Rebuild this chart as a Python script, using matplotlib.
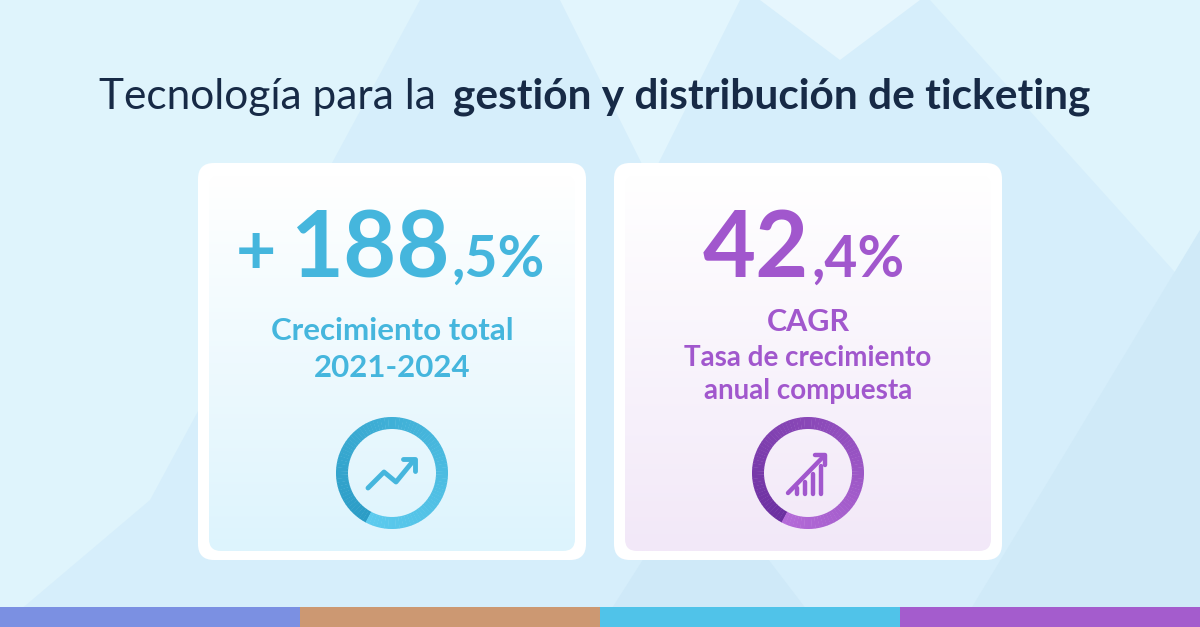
import matplotlib
matplotlib.use("Agg")
import matplotlib.pyplot as plt
import numpy as np
from matplotlib.patches import FancyBboxPatch, Polygon, Wedge, Rectangle
from matplotlib.colors import to_rgb

plt.rcParams['font.family'] = ['Lato', 'DejaVu Sans']

# data
title_regular = "Tecnología para la "
title_bold = "gestión y distribución de ticketing"
card1_value = ("+", "188", ",5%")
card1_labels = ["Crecimiento total", "2021-2024"]
card2_value = ("42", ",4%")
card2_labels = ["CAGR", "Tasa de crecimiento", "anual compuesta"]
stripe_colors = ['#7b90e2', '#cc9872', '#50c3e9', '#a45ccd']

BLUE = '#45b6dd'
PURPLE = '#a157cd'
DARK = '#172a46'

fig = plt.figure(figsize=(12, 6.27), dpi=100)
ax = fig.add_axes([0, 0, 1, 1])
ax.set_xlim(0, 1200)
ax.set_ylim(627, 0)
ax.axis('off')

# background
ax.add_patch(Rectangle((0, 0), 1200, 627, color='#d6eefb', zorder=0))
for pts, c in [([(0, 0), (420, 0), (150, 500), (0, 627)], '#dff4fc'),
               ([(560, 0), (740, 0), (650, 180)], '#e2f5fd'),
               ([(930, 0), (1200, 0), (1200, 300)], '#dff4fc'),
               ([(760, 0), (840, 60), (920, 0)], '#e6f6fd'),
               ([(600, 627), (700, 470), (820, 627)], '#cfe9f8'),
               ([(960, 627), (1200, 230), (1200, 627)], '#d0eaf8')]:
    ax.add_patch(Polygon(pts, closed=True, color=c, zorder=0.5, lw=0))

# title
ax.text(447, 97, title_regular, ha='right', va='center', fontsize=30.5, color=DARK)
ax.text(453, 97, title_bold, ha='left', va='center', fontsize=30.5, color=DARK, fontweight='bold')


def card(x0, x1, bottom_color):
    outer = FancyBboxPatch((x0, 163), x1 - x0, 397, boxstyle="round,pad=0,rounding_size=16",
                           fc='white', ec='none', zorder=1)
    ax.add_patch(outer)
    inner = FancyBboxPatch((x0 + 11, 175), x1 - x0 - 22, 376, boxstyle="round,pad=0,rounding_size=12",
                           fc='none', ec='none', zorder=1.5)
    ax.add_patch(inner)
    top = np.array(to_rgb('white'))
    bot = np.array(to_rgb(bottom_color))
    t = np.linspace(0, 1, 200)[:, None]
    grad = (top * (1 - t) + bot * t)[:, None, :]
    im = ax.imshow(grad, extent=(x0 + 11, x1 - 11, 551, 175), aspect='auto', zorder=1.6)
    im.set_clip_path(inner)


card(198, 586, '#ddf4fd')
card(614, 1002, '#f2e8f8')
ax.set_xlim(0, 1200)
ax.set_ylim(627, 0)

# card 1 numbers
ax.text(256, 274, card1_value[0], ha='center', va='baseline', fontsize=50, color=BLUE, fontweight='bold')
ax.text(370, 277, card1_value[1], ha='center', va='baseline', fontsize=66, color=BLUE, fontweight='bold')
ax.text(452, 277, card1_value[2], ha='left', va='baseline', fontsize=41, color=BLUE, fontweight='bold')
for i, s in enumerate(card1_labels):
    ax.text(392, 331 + 37 * i, s, ha='center', va='center', fontsize=22.5, color=BLUE, fontweight='bold')

# card 2 numbers
ax.text(809, 277, card2_value[0], ha='right', va='baseline', fontsize=66, color=PURPLE, fontweight='bold')
ax.text(811, 277, card2_value[1], ha='left', va='baseline', fontsize=41, color=PURPLE, fontweight='bold')
ax.text(808, 322, card2_labels[0], ha='center', va='center', fontsize=22, color=PURPLE, fontweight='bold')
for i, s in enumerate(card2_labels[1:]):
    ax.text(808, 358 + 33 * i, s, ha='center', va='center', fontsize=20, color=PURPLE, fontweight='bold')


def ring(cx, cy, c_start, c_end):
    a = np.array(to_rgb(c_start))
    b = np.array(to_rgb(c_end))
    n = 90
    for k in range(n):
        f = k / (n - 1)
        ang = 240 - 360 * k / n  # clockwise from bottom-left
        col = a * (1 - f) + b * f
        # y axis is inverted, so negate angles
        ax.add_patch(Wedge((cx, cy), 56, -ang - 2.2, -ang + 2.2, width=12,
                           fc=col, ec='none', zorder=3))


ring(392, 473, '#2b9cc6', '#5ccbee')
ring(808, 473, '#6b2fa0', '#b46ad8')

# arrow icon in ring 1
ax.plot([368, 384, 396, 414], [488, 472, 482, 460], color=BLUE, lw=3.5,
        solid_capstyle='round', solid_joinstyle='round', zorder=4)
ax.plot([403, 415, 415], [459, 459, 471], color=BLUE, lw=3.5,
        solid_capstyle='round', solid_joinstyle='round', zorder=4)

# bar icon in ring 2
for i, h in enumerate([6, 12, 20, 28]):
    x = 797 + 8 * i
    ax.plot([x, x], [494, 494 - h], color=PURPLE, lw=3.2, solid_capstyle='round', zorder=4)
ax.plot([788, 824], [493, 456], color=PURPLE, lw=3.2, solid_capstyle='round', zorder=4)
ax.plot([815, 825, 825], [455, 455, 465], color=PURPLE, lw=3.2,
        solid_capstyle='round', solid_joinstyle='round', zorder=4)

# bottom stripe
for i, c in enumerate(stripe_colors):
    ax.add_patch(Rectangle((300 * i, 607), 300, 20, color=c, lw=0, zorder=5))

fig.savefig('out.png', dpi=100)
